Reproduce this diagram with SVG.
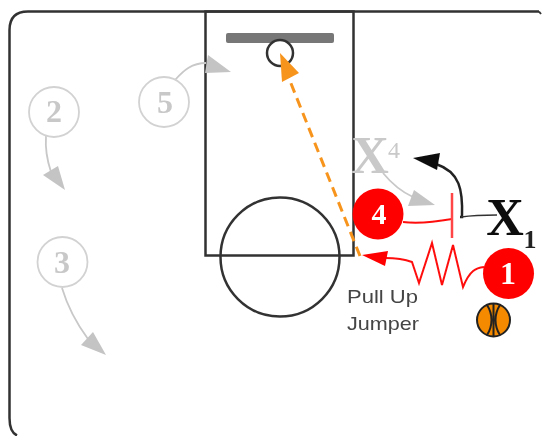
<svg xmlns="http://www.w3.org/2000/svg" width="542" height="436" viewBox="0 0 542 436">
<defs><filter id="soft" x="-5%" y="-5%" width="110%" height="110%"><feGaussianBlur stdDeviation="0.7"/></filter></defs>
<style>
.num{font-family:"Liberation Serif",serif;font-weight:bold;text-anchor:middle}
.ghost{fill:#fff;stroke:#d2d2d2;stroke-width:1.8}
.ghostn{fill:#c8c8c8;font-size:32px}
.gl{fill:none;stroke:#c8c8c8;stroke-width:1.8}
.gh{fill:#c4c4c4}
.red{fill:#f00}
.rl{fill:none;stroke:#f11;stroke-width:2}
.ln{font-family:"Liberation Sans",sans-serif;font-size:19px;fill:#444}
</style>
<g filter="url(#soft)">
<g id="court" fill="none" stroke="#333" stroke-width="2.500">
<path d="M539 11.500H28Q9.500 11.500 9.500 30V418Q9.500 432 17 435.500"/>
<path d="M539 11.500L541 14" stroke-width="2"/>
<rect x="205.500" y="11.500" width="148" height="244"/>
<circle cx="280" cy="257" r="59.500"/>
</g>
<g id="backboard"><rect x="226" y="33" width="108" height="10" rx="2" fill="#777"/><circle cx="280" cy="53" r="13" fill="#fff" stroke="#333" stroke-width="2.500"/></g>
<g id="connectors">
<path class="gl" d="M46 136C45 150 47 160 51 172"/><path class="gh" d="M43 175L58 166L65 190Z"/>
<path class="gl" d="M175 80C184 70 192 63 206 63"/><path class="gh" d="M208 55L231 72L205 73Z"/>
<path class="gl" d="M62 288C68 308 77 324 88 339"/><path class="gh" d="M81 345L93 332L106 355Z"/>
<path class="gl" d="M383 173C392 184 402 192 413 197"/><path class="gh" d="M414 190L435 205L408 206Z"/>
<path d="M460 217H462C463 190 460 172 436 164" fill="none" stroke="#222" stroke-width="2.500"/><path fill="#111" d="M413 158L440 153L437 170Z"/>
<path d="M461 217C475 215 485 215 497 215" fill="none" stroke="#333" stroke-width="1.500"/>
<path class="rl" d="M403 222C420 224 435 222 452 219"/>
<path d="M452 193V238" fill="none" stroke="#f44" stroke-width="2.500"/>
<path class="rl" d="M484 267C476 268 470 270 463 287L453 245L442 285L432 243L419 283L412 262C404 259 396 258 385 258"/>
<path d="M362 255L388 251L385 266Z" class="red"/>
<path d="M360 256L288 76" fill="none" stroke="#f7941e" stroke-width="3" stroke-dasharray="10 6"/>
<path d="M280 53L299 73L282 82Z" fill="#f7941e"/>
</g>
<g id="player-2"><circle class="ghost" cx="54" cy="112" r="25"/><text class="num ghostn" x="54" y="122">2</text></g>
<g id="player-5"><circle class="ghost" cx="164" cy="102" r="25"/><text class="num ghostn" x="165" y="113">5</text></g>
<g id="player-3"><circle class="ghost" cx="62.500" cy="262" r="25"/><text class="num ghostn" x="62" y="273">3</text></g>
<g id="player-4"><circle class="red" cx="378" cy="214" r="25.500"/><text class="num" x="379" y="224" font-size="30" fill="#fff">4</text></g>
<g id="player-1"><circle class="red" cx="508.500" cy="273.500" r="25.500"/><text class="num" x="508" y="284" font-size="32" fill="#fff">1</text></g>
<g id="x4"><text class="num" x="370" y="173" font-size="52" fill="#c9c9c9">X</text><text x="394" y="158" font-size="24" text-anchor="middle" font-family="'Liberation Serif',serif" fill="#c9c9c9">4</text></g>
<g id="x1"><text class="num" x="505" y="235" font-size="52" fill="#111">X</text><text class="num" x="530" y="248" font-size="26" fill="#222">1</text></g>
<g id="ball" stroke="#222" stroke-width="2"><circle cx="493.500" cy="320" r="16.500" fill="#f58a00"/><path fill="none" d="M487 305C493 314 493 326 487 335M500 305C494 314 494 326 500 335M493.500 304V336"/></g>
<g id="label"><text class="ln" x="347" y="303" textLength="71" lengthAdjust="spacingAndGlyphs">Pull Up</text><text class="ln" x="347" y="330" textLength="72" lengthAdjust="spacingAndGlyphs">Jumper</text></g>
</g>
</svg>
